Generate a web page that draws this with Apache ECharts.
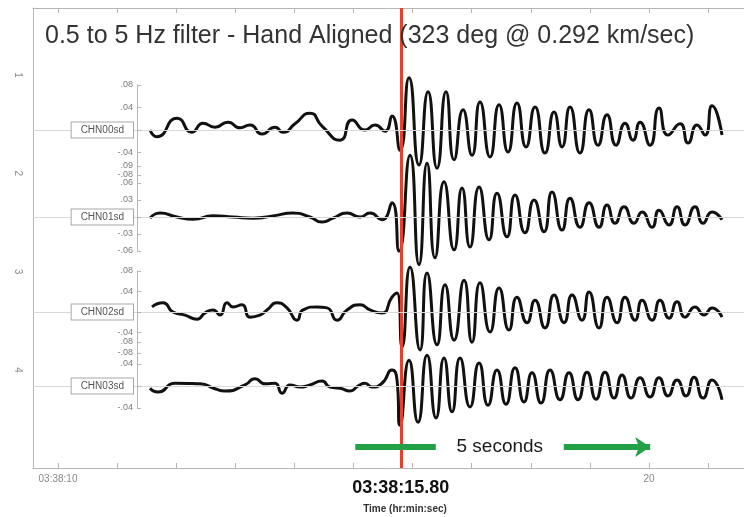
<!DOCTYPE html>
<html><head><meta charset="utf-8">
<script src="https://cdn.jsdelivr.net/npm/echarts@6/dist/echarts.min.js"></script>
<style>html,body{margin:0;padding:0;background:#fff}#c{width:744px;height:517px}</style>
</head><body><div id="c"></div>
<script>
// ---------- data ----------
const titleText = '0.5 to 5 Hz filter - Hand Aligned (323 deg @ 0.292 km/sec)';
const traceNames = ['CHN00sd', 'CHN01sd', 'CHN02sd', 'CHN03sd'];
const rowNumbers = [1, 2, 3, 4];
const xTickSeconds = [0, 1, 2, 3, 4, 5, 6, 7, 8, 9, 10, 11];
const xLabelSeconds = [0, 10];
const xLabelTexts = ['03:38:10', '20'];
const arrivalSeconds = 5.8;
const arrivalLabel = '03:38:15.80';
const arrowStartSeconds = 5.03;
const arrowEndSeconds = 10.02;
const arrowText = '5 seconds';
const axisTitle = 'Time (hr:min:sec)';

const yTicks1 = [-0.08, -0.04, 0, 0.04, 0.08];
const yTicks2 = [-0.06, -0.03, 0, 0.03, 0.06, 0.09];
const yTicks3 = [-0.08, -0.04, 0, 0.04, 0.08];
const yTicks4 = [-0.04, 0, 0.04, 0.08];

const T1 = [1.557,1.675,2.014,2.267,2.453,2.656,2.876,3.080,3.249,3.452,3.672,3.807,4.010,4.264,4.467,4.772,4.975,5.195,5.364,5.533,5.651,
  5.787,5.939,6.108,6.261,6.413,6.565,6.701,6.853,7.005,7.140,7.310,7.462,7.614,7.766,7.919,8.071,8.240,8.393,8.528,8.663,
  8.832,8.985,9.137,9.289,9.442,9.594,9.729,9.848,10.017,10.169,10.321,10.525,10.660,10.812,10.948,11.066,11.235];
const V1 = [0,-0.012,0.021,-0.004,0.012,0.005,0.014,0.004,0.009,-0.007,0.005,-0.004,0.011,0.030,0.007,-0.018,0.018,0,0.009,-0.002,0.025,
  -0.036,0.093,-0.062,0.068,-0.068,0.068,-0.053,0.036,-0.045,0.050,-0.048,0.045,-0.039,0.048,-0.030,0.041,-0.041,0.032,-0.030,0.041,
  -0.041,0.036,-0.027,0.027,-0.027,0.012,-0.018,0.014,-0.027,0.039,-0.009,0.011,-0.023,0.009,-0.009,0.043,-0.009];

const T2 = [1.557,1.726,2.014,2.284,2.623,2.961,3.299,3.638,3.976,4.264,4.467,4.653,4.890,5.110,5.279,5.482,5.651,
  5.770,5.956,6.108,6.244,6.379,6.531,6.701,6.836,6.971,7.124,7.293,7.428,7.597,7.733,7.902,8.054,8.223,8.359,8.528,8.663,
  8.832,8.985,9.154,9.289,9.425,9.577,9.746,9.882,10.051,10.169,10.338,10.474,10.609,10.778,10.914,11.066,11.235];
const V2 = [-0.002,0.007,0,-0.004,0.002,0,-0.002,0.002,0.007,0,-0.009,-0.002,0.007,0,0.007,-0.005,0.025,
  -0.060,0.109,-0.084,0.095,-0.072,0.062,-0.058,0.051,-0.053,0.053,-0.040,0.042,-0.035,0.039,-0.028,0.030,-0.026,0.044,-0.023,0.033,
  -0.018,0.025,-0.018,0.021,-0.011,0.018,-0.011,0.009,-0.018,0.012,-0.014,0.018,-0.014,0.018,-0.011,0.009,-0.005];

const T3 = [1.591,1.777,1.946,2.149,2.352,2.487,2.623,2.741,2.860,2.961,3.113,3.249,3.418,3.536,3.706,3.875,4.044,4.146,4.382,4.552,4.721,4.890,5.110,5.279,5.482,5.651,5.736,
  5.821,5.956,6.125,6.244,6.413,6.548,6.701,6.870,7.005,7.140,7.310,7.462,7.631,7.766,7.936,8.071,8.240,8.393,8.562,8.697,
  8.866,8.985,9.154,9.289,9.459,9.594,9.763,9.882,10.051,10.186,10.338,10.474,10.609,10.778,10.931,11.066,11.235];
const V3 = [0.010,0.018,0,-0.006,-0.014,-0.002,0.004,-0.006,0.018,0.010,0.014,-0.010,-0.006,0.004,0.018,0.008,-0.016,0.004,0.010,0.008,-0.016,0.004,0.014,0.004,-0.002,0.029,0.037,
  -0.068,0.088,-0.074,0.076,-0.064,0.053,-0.055,0.062,-0.059,0.057,-0.039,0.047,-0.035,0.029,-0.021,0.023,-0.031,0.033,-0.021,0.033,
  -0.016,0.039,-0.031,0.029,-0.021,0.029,-0.016,0.023,-0.016,0.023,-0.012,0.020,-0.010,0.010,-0.006,0.008,-0.010];

const T4 = [1.557,1.692,1.980,2.403,2.656,2.826,3.164,3.333,3.503,3.672,3.790,3.926,4.095,4.264,4.467,4.602,4.772,4.941,5.076,5.195,5.313,5.482,5.651,5.736,
  5.787,5.939,6.091,6.244,6.396,6.531,6.667,6.802,6.971,7.124,7.276,7.428,7.580,7.733,7.885,8.020,8.173,8.325,8.494,8.646,
  8.799,8.951,9.103,9.255,9.408,9.543,9.695,9.848,10.017,10.169,10.321,10.474,10.626,10.761,10.914,11.066,11.235];
const V4 = [-0.004,-0.011,0.005,0.004,-0.005,-0.009,0.002,0.013,0.004,0.005,-0.013,0.002,-0.002,0.002,0.009,-0.002,-0.004,-0.009,0,0.005,-0.002,0.005,0.029,0.011,
  -0.071,0.047,-0.066,0.056,-0.058,0.051,-0.047,0.051,-0.038,0.042,-0.035,0.029,-0.033,0.033,-0.029,0.024,-0.031,0.029,-0.025,0.024,
  -0.025,0.025,-0.024,0.025,-0.022,0.020,-0.022,0.015,-0.020,0.015,-0.018,0.011,-0.018,0.016,-0.022,0.011,-0.025];

// ---------- layout ----------
const FONT = "'Liberation Sans', Arial, Helvetica, sans-serif";
const xMin = -0.423, xMax = 11.607;
const rowMin = 0.3186, rowMax = 4.997;
const arrowRow = 4.783;
const traceLayout = [
  {top: 85, height: 90, min: -0.08, max: 0.08, ticks: yTicks1, T: T1, V: V1},
  {top: 166, height: 85, min: -0.06, max: 0.09, ticks: yTicks2, T: T2, V: V2},
  {top: 271, height: 82, min: -0.08, max: 0.08, ticks: yTicks3, T: T3, V: V3},
  {top: 342, height: 66, min: -0.04, max: 0.08, ticks: yTicks4, T: T4, V: V4}
];
const axisGray = '#b5b5b5';

const grids = [{left: 33, right: 0, top: 8, bottom: 49}];
const xAxes = [
  {type: 'value', gridIndex: 0, position: 'bottom', min: xMin, max: xMax,
   axisLine: {show: true, onZero: false, lineStyle: {color: axisGray, width: 1}},
   axisTick: {show: true, inside: true, length: 5, customValues: xTickSeconds, lineStyle: {color: axisGray}},
   splitLine: {show: false},
   axisLabel: {show: true, customValues: xLabelSeconds.concat([arrivalSeconds]), margin: 6,
     fontFamily: FONT, fontSize: 10, color: '#8a8a8a',
     formatter: v => {
       const i = xLabelSeconds.indexOf(v);
       if (i >= 0) return xLabelTexts[i];
       return '{big|' + arrivalLabel + '}';
     },
     rich: {big: {fontFamily: FONT, fontSize: 18, fontWeight: 'bold', color: '#111', padding: [5, 0, 0, 0]}}}},
  {type: 'value', gridIndex: 0, position: 'top', min: xMin, max: xMax,
   axisLine: {show: true, onZero: false, lineStyle: {color: axisGray, width: 1}},
   axisTick: {show: true, inside: true, length: 5, customValues: xTickSeconds, lineStyle: {color: axisGray}},
   axisLabel: {show: false}, splitLine: {show: false}}
];
const yAxes = [
  {type: 'value', gridIndex: 0, position: 'left', inverse: true, min: rowMin, max: rowMax,
   axisLine: {show: true, onZero: false, lineStyle: {color: axisGray, width: 1}},
   axisTick: {show: false}, splitLine: {show: false},
   axisLabel: {show: true, customValues: rowNumbers, rotate: -90, margin: 10, fontFamily: FONT, fontSize: 10, color: '#8a8a8a'}}
];
const series = [
  {type: 'line', name: 'annot', xAxisIndex: 0, yAxisIndex: 0, data: [], z: 2,
   markLine: {silent: true, symbol: ['none', 'none'],
     lineStyle: {color: '#e8402c', width: 3, type: 'solid'}, label: {show: false},
     data: [{xAxis: arrivalSeconds}]}},
  {type: 'line', name: 'arrow', xAxisIndex: 0, yAxisIndex: 0, data: [], z: 6,
   markLine: {silent: true, symbol: ['none', 'arrow'], symbolSize: 15,
     data: [[{coord: [arrowStartSeconds, arrowRow]}, {coord: [arrowEndSeconds, arrowRow]}]],
     lineStyle: {color: '#24a046', width: 6, type: 'solid'}, label: {show: false}}},
  {type: 'line', name: 'arrowText', xAxisIndex: 0, yAxisIndex: 0, data: [], z: 7,
   markPoint: {silent: true, symbol: 'rect', symbolSize: [128, 24],
     itemStyle: {color: '#ffffff'},
     data: [{coord: [(arrowStartSeconds + arrowEndSeconds) / 2 - 0.05, arrowRow]}],
     label: {show: true, position: 'inside', formatter: arrowText, fontFamily: FONT, fontSize: 19, color: '#1a1a1a'}}}
];

traceLayout.forEach((tr, i) => {
  grids.push({left: 33, right: 0, top: tr.top, height: tr.height});
  xAxes.push({type: 'value', gridIndex: i + 1, min: xMin, max: xMax, show: false});
  yAxes.push({type: 'value', gridIndex: i + 1, min: tr.min, max: tr.max, position: 'left', offset: -104, z: 5,
    axisLine: {show: true, onZero: false, lineStyle: {color: axisGray, width: 1}},
    axisTick: {show: true, inside: true, length: 4, customValues: tr.ticks, lineStyle: {color: axisGray}},
    splitLine: {show: false},
    axisLabel: {show: true, customValues: tr.ticks, margin: 4, fontFamily: FONT, fontSize: 9, color: '#7a7a7a',
      formatter: v => Math.abs(v) < 1e-9 ? '{box|' + traceNames[i] + '}' : (v < 0 ? '-' : '') + Math.abs(v).toFixed(2).slice(1),
      rich: {box: {fontFamily: FONT, fontSize: 10, color: '#555', borderColor: '#a8a8a8', borderWidth: 1,
        padding: [3, 9, 2, 9], backgroundColor: '#ffffff'}}}});
  series.push({type: 'line', name: traceNames[i], xAxisIndex: i + 2, yAxisIndex: i + 1,
    data: tr.T.map((t, k) => [t, tr.V[k]]), smooth: 0.6, symbol: 'none', clip: false, z: 3,
    lineStyle: {color: '#111', width: 3},
    markLine: {silent: true, symbol: ['none', 'none'], label: {show: false},
      lineStyle: {color: '#d8d8d8', width: 1, type: 'solid'}, data: [{yAxis: 0}]}});
});

const chart = echarts.init(document.getElementById('c'));
chart.setOption({
  backgroundColor: '#ffffff',
  animation: false,
  title: [
    {text: titleText, left: 40, top: 19, textStyle: {fontFamily: FONT, fontSize: 25, fontWeight: 'normal', color: '#333'}},
    {text: axisTitle, left: 400, top: 499, textAlign: 'center', textStyle: {fontFamily: FONT, fontSize: 10, fontWeight: 'bold', color: '#333'}}
  ],
  grid: grids, xAxis: xAxes, yAxis: yAxes, series: series
});
</script></body></html>
